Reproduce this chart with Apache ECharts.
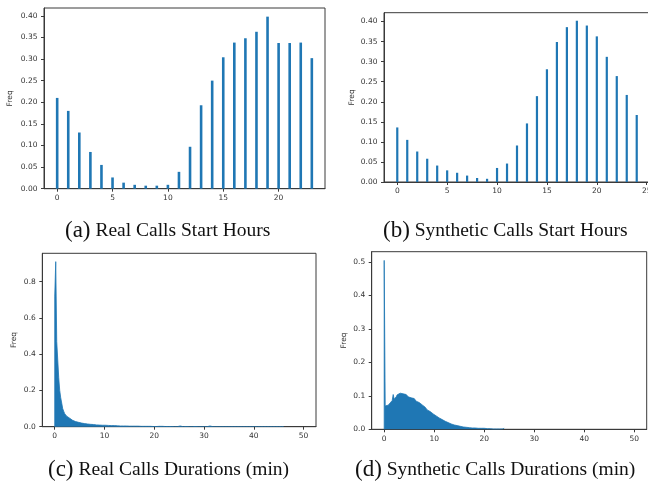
<!DOCTYPE html>
<html><head><meta charset="utf-8">
<script src="https://cdn.jsdelivr.net/npm/echarts@6/dist/echarts.min.js"></script>
<style>html,body{margin:0;padding:0;background:#fff}#c{width:648px;height:489px}</style>
</head><body><div id="c"></div>
<script>
// ---------- data ----------
const realHours = [0,1,2,3,4,5,6,7,8,9,10,11,12,13,14,15,16,17,18,19,20,21,22,23];
const realHourFreq = [0.210,0.180,0.130,0.085,0.055,0.026,0.014,0.009,0.007,0.007,0.009,0.039,0.097,0.193,0.250,0.304,0.338,0.348,0.363,0.398,0.337,0.337,0.338,0.302];
const synHours = [0,1,2,3,4,5,6,7,8,9,10,11,12,13,14,15,16,17,18,19,20,21,22,23,24];
const synHourFreq = [0.136,0.105,0.076,0.058,0.041,0.029,0.023,0.016,0.010,0.008,0.035,0.046,0.091,0.146,0.214,0.281,0.349,0.386,0.402,0.390,0.363,0.312,0.264,0.217,0.167];

const durBinWidth = 0.2; // minutes per histogram bin, bins start at 0
const realDurFreq = [
  0.72,0.91,0.47,0.46,0.27,0.20,0.16,0.13,0.10,0.085,
  0.072,0.064,0.058,0.052,0.047,0.042,0.038,0.035,0.032,0.030,
  0.028,0.026,0.025,0.024,0.022,0.021,0.020,0.019,0.018,0.017,
  0.016,0.016,0.015,0.014,0.014,0.013,0.013,0.012,0.012,0.011,
  0.011,0.010,0.010,0.010,0.009,0.009,0.009,0.008,0.008,0.008,
  0.008,0.007,0.007,0.007,0.007,0.006,0.006,0.006,0.006,0.006,
  0.005,0.006,0.005,0.005,0.005,0.004,0.005,0.004,0.004,0.004,
  0.004,0.004,0.003,0.004,0.003,0.003,0.003,0.003,0.003,0.003,
  0.003,0.003,0.002,0.003,0.002,0.003,0.002,0.002,0.002,0.002,
  0.002,0.002,0.002,0.002,0.002,0.002,0.002,0.002,0.001,0.002,
  0.002,0.001,0.002,0.001,0.002,0.001,0.001,0.002,0.001,0.001,
  0.001,0.001,0,0.001,0.001,0,0.001,0,0.001,0,
  0.001,0,0,0,0,0.004,0,0.004,0,0,
  0,0.001,0,0,0,0,0.001,0,0,0,
  0.001,0,0,0,0,0.004,0,0,0,0,
  0,0,0,0,0,0.004,0,0,0,0,
  0,0,0.004,0,0,0.004,0,0,0,0,
  0,0,0,0,0,0,0,0,0,0,
  0.004,0,0,0,0,0,0,0,0,0,
  0,0,0,0,0,0,0,0,0,0,
  0,0,0,0,0,0,0,0,0,0,
  0,0,0,0,0,0,0,0,0,0,
  0,0,0,0,0,0.004,0,0,0,0
];
const synDurFreq = [
  0.505,0.070,0.074,0.072,0.076,0.075,0.079,0.082,0.086,0.104,
  0.090,0.094,0.097,0.103,0.105,0.108,0.112,0.110,0.106,0.104,
  0.101,0.104,0.099,0.103,0.097,0.098,0.094,0.095,0.091,0.092,
  0.088,0.087,0.084,0.082,0.080,0.078,0.075,0.073,0.071,0.068,
  0.066,0.063,0.061,0.058,0.055,0.053,0.050,0.048,0.046,0.044,
  0.042,0.040,0.038,0.036,0.034,0.032,0.031,0.029,0.027,0.026,
  0.024,0.023,0.021,0.020,0.018,0.017,0.016,0.015,0.014,0.013,
  0.012,0.011,0.011,0.010,0.009,0.009,0.008,0.008,0.007,0.007,
  0.006,0.006,0.005,0.005,0.005,0.005,0.004,0.004,0.004,0.004,
  0.004,0.003,0.003,0.003,0.003,0.003,0.003,0.003,0.002,0.003,
  0.002,0.002,0.002,0.002,0.002,0.002,0.002,0.002,0.001,0.001,
  0.001,0.001,0.001,0.001,0.001,0,0,0.001,0,0.003
];

const hourTicksReal = [0,5,10,15,20];
const hourTicksSyn = [0,5,10,15,20,25];
const hourFreqTicks = [0,0.05,0.10,0.15,0.20,0.25,0.30,0.35,0.40];
const durTicks = [0,10,20,30,40,50];
const realDurFreqTicks = [0,0.2,0.4,0.6,0.8];
const synDurFreqTicks = [0,0.1,0.2,0.3,0.4,0.5];
const captionTags = ['(a)','(b)','(c)','(d)'];
const captionTexts = ['Real Calls Start Hours','Synthetic Calls Start Hours','Real Calls Durations (min)','Synthetic Calls Durations (min)'];

// ---------- chart ----------
const BLUE = '#1f77b4', FRAME = '#3a3a3a', TXT = '#333';
const tickFont = {color:TXT, fontSize:7.5, fontFamily:'DejaVu Sans'};

function histPoints(vals, bw){
  const pts = [[0, 0]].concat(vals.map((v,i)=>[i*bw, v]));
  pts.push([vals.length*bw, vals[vals.length-1]]);
  pts.push([vals.length*bw, 0]);
  return pts;
}
function xAxis(idx, min, max, ticks){
  return {type:'value', gridIndex:idx, min, max,
    axisLine:{show:true, onZero:false, lineStyle:{color:FRAME,width:1}},
    axisTick:{show:true, length:3, customValues:ticks, lineStyle:{color:FRAME}},
    axisLabel:Object.assign({margin:5.5, customValues:ticks, formatter:v=>String(v)}, tickFont),
    splitLine:{show:false}};
}
function yAxis(idx, max, ticks, dec, gap){
  return {type:'value', gridIndex:idx, min:0, max,
    name:'Freq', nameLocation:'middle', nameGap:gap, nameRotate:90,
    nameTextStyle:{color:TXT, fontSize:7.5, fontFamily:'DejaVu Sans'},
    axisLine:{show:true, onZero:false, lineStyle:{color:FRAME,width:1}},
    axisTick:{show:true, length:3, customValues:ticks, lineStyle:{color:FRAME}},
    axisLabel:Object.assign({margin:6.5, customValues:ticks, formatter:v=>v.toFixed(dec)}, tickFont),
    splitLine:{show:false}};
}
const gridBase = {show:true, borderColor:FRAME, borderWidth:1, backgroundColor:'transparent', outerBoundsMode:'none', containLabel:false};
const captionPos = [[65,218],[383,218],[48,457],[355,457]];

const option = {
  animation:false,
  grid:[
    Object.assign({left:44, top:8, width:281, height:180.7}, gridBase),
    Object.assign({left:384, top:12.7, width:266, height:169.3}, gridBase),
    Object.assign({left:42.3, top:253.3, width:273.7, height:173.4}, gridBase),
    Object.assign({left:371.7, top:251.7, width:275, height:177.6}, gridBase)
  ],
  xAxis:[
    xAxis(0, -1.19, 24.19, hourTicksReal),
    xAxis(1, -1.33, 25.33, hourTicksSyn),
    xAxis(2, -2.5, 52.5, durTicks),
    xAxis(3, -2.5, 52.5, durTicks)
  ],
  yAxis:[
    yAxis(0, 0.418, hourFreqTicks, 2, 30),
    yAxis(1, 0.422, hourFreqTicks, 2, 27.5),
    yAxis(2, 0.956, realDurFreqTicks, 1, 24),
    yAxis(3, 0.531, synDurFreqTicks, 1, 23.5)
  ],
  series:[
    {type:'bar', xAxisIndex:0, yAxisIndex:0, barWidth:2.6, itemStyle:{color:BLUE},
      data:realHours.map((h,i)=>[h, realHourFreq[i]])},
    {type:'bar', xAxisIndex:1, yAxisIndex:1, barWidth:2.2, itemStyle:{color:BLUE},
      data:synHours.map((h,i)=>[h, synHourFreq[i]])},
    {type:'line', xAxisIndex:2, yAxisIndex:2, step:'end', symbol:'none', silent:true,
      lineStyle:{color:BLUE, width:0.8}, areaStyle:{color:BLUE, opacity:1},
      data:histPoints(realDurFreq, durBinWidth)},
    {type:'line', xAxisIndex:3, yAxisIndex:3, step:'end', symbol:'none', silent:true,
      lineStyle:{color:BLUE, width:0.8}, areaStyle:{color:BLUE, opacity:1},
      data:histPoints(synDurFreq, durBinWidth)}
  ],
  title: captionTags.map((tag,i)=>({
    text:'{p|'+tag+'}{s| }{t|'+captionTexts[i]+'}',
    left:captionPos[i][0], top:captionPos[i][1], padding:0,
    textStyle:{fontWeight:'normal', fontFamily:'Liberation Serif', rich:{
      p:{fontSize:23, fontFamily:'Liberation Serif', fontWeight:'normal', color:'#111', lineHeight:26},
      s:{fontSize:19.5, fontFamily:'Liberation Serif', fontWeight:'normal', color:'#111', lineHeight:26},
      t:{fontSize:19.5, fontFamily:'Liberation Serif', fontWeight:'normal', color:'#111', lineHeight:26}
    }}
  }))
};
const chart = echarts.init(document.getElementById('c'), null, {renderer:'canvas'});
chart.setOption(option);
</script>
</body></html>
